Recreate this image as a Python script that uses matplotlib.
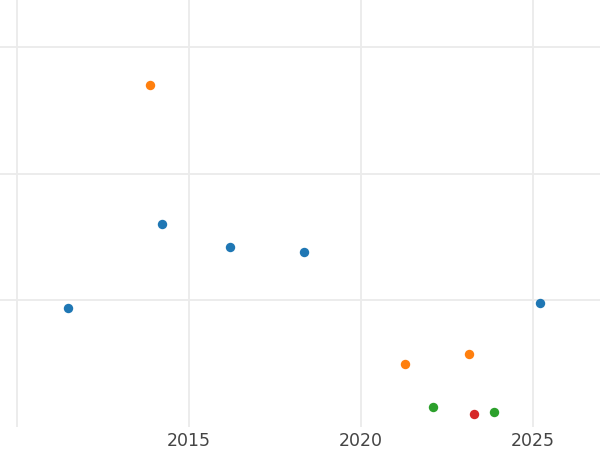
import numpy as np
import matplotlib
matplotlib.use("Agg")
import matplotlib.pyplot as plt

# year / value pairs per group
blue_x = [2011.48, 2014.22, 2016.19, 2018.34, 2025.20]
blue_y = [0.94, 1.60, 1.42, 1.38, 0.98]
orange_x = [2013.87, 2021.28, 2023.14]
orange_y = [2.70, 0.50, 0.58]
green_x = [2022.09, 2023.87]
green_y = [0.16, 0.12]
red_x = [2023.28]
red_y = [0.10]

xticks = [2010, 2015, 2020, 2025]
xtick_labels = ["", "2015", "2020", "2025"]
yticks = [1, 2, 3]

fig = plt.figure(figsize=(6, 4.5), dpi=100)
ax = fig.add_axes([0, 1 - 427 / 450, 1, 427 / 450])

for xs, ys, c in [(blue_x, blue_y, "#1f77b4"), (orange_x, orange_y, "#ff7f0e"),
                  (green_x, green_y, "#2ca02c"), (red_x, red_y, "#d62728")]:
    ax.scatter(xs, ys, s=46, color=c, linewidths=0, zorder=3)

ax.set_xlim(2009.506, 2026.95)
ax.set_ylim(0, 3.37)
ax.set_xticks(xticks, xtick_labels)
ax.set_yticks(yticks, [])
ax.grid(True, color="#ebebeb", linewidth=1.3)
ax.set_axisbelow(True)
ax.tick_params(length=0, labelsize=12.5, labelcolor="#444444", pad=3.5)
for s in ax.spines.values():
    s.set_visible(False)

fig.savefig("out.png", dpi=100)
